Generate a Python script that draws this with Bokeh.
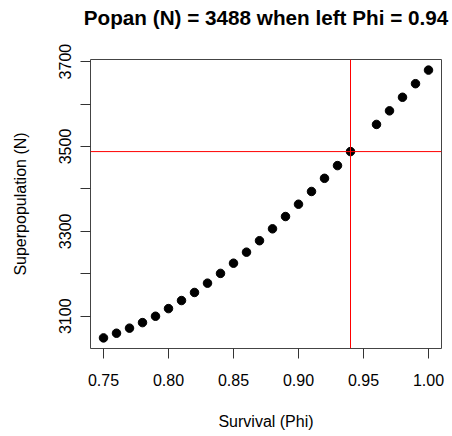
from bokeh.plotting import figure
from bokeh.models import Range1d, FixedTicker, Span, Title
from bokeh.embed import file_html
from bokeh.resources import INLINE

phi = [0.75, 0.76, 0.77, 0.78, 0.79, 0.80, 0.81, 0.82, 0.83, 0.84, 0.85, 0.86,
       0.87, 0.88, 0.89, 0.90, 0.91, 0.92, 0.93, 0.94, 0.96, 0.97, 0.98, 0.99, 1.00]
superpop = [3049, 3060, 3072, 3085, 3100, 3118, 3137, 3156, 3178, 3201, 3225, 3251,
            3278, 3306, 3335, 3364, 3394, 3425, 3455, 3488, 3552, 3584, 3616, 3648, 3680]
sel_phi = 0.94
sel_n = 3488
x_ticks = [0.75, 0.80, 0.85, 0.90, 0.95, 1.00]
y_ticks = [3100, 3200, 3300, 3400, 3500, 3600, 3700]
y_labelled = [3100, 3300, 3500, 3700]
title_text = f"Popan (N) = {sel_n} when left Phi = {sel_phi}"

FONT = "Liberation Sans"

p = figure(width=452, height=436, output_backend="svg", toolbar_location=None,
           x_range=Range1d(0.74, 1.01), y_range=Range1d(3024, 3705),
           min_border_left=90, min_border_right=11, min_border_top=59, min_border_bottom=88)

# spacer between frame and title (first "above" item sits next to the frame)
p.add_layout(Title(text=" ", text_font_size="1px", standoff=28), "above")
p.add_layout(Title(text=title_text, text_font=FONT, text_font_size="20.7px",
                   text_font_style="bold", align="center", text_color="black",
                   standoff=0), "above")

p.xgrid.visible = False
p.ygrid.visible = False
p.outline_line_color = "#444444"
p.outline_line_width = 1
p.background_fill_color = "white"
p.border_fill_color = "white"

p.xaxis.ticker = FixedTicker(ticks=x_ticks)
p.xaxis.major_label_overrides = {t: f"{t:.2f}" for t in x_ticks}
p.yaxis.ticker = FixedTicker(ticks=y_ticks)
p.yaxis.major_label_overrides = {t: (str(t) if t in y_labelled else "") for t in y_ticks}
p.yaxis.major_label_orientation = "vertical"

for ax in (p.xaxis[0], p.yaxis[0]):
    ax.axis_line_color = None
    ax.major_tick_in = 0
    ax.major_tick_out = 10
    ax.major_tick_line_color = "#333333"
    ax.minor_tick_line_color = None
    ax.major_label_text_font = FONT
    ax.major_label_text_font_size = "16px"
    ax.major_label_text_color = "black"
    ax.axis_label_text_font = FONT
    ax.axis_label_text_font_size = "16px"
    ax.axis_label_text_font_style = "normal"
    ax.axis_label_text_color = "black"

p.xaxis.axis_label = "Survival (Phi)"
p.yaxis.axis_label = "Superpopulation (N)"
p.xaxis.major_label_standoff = 15
p.yaxis.major_label_standoff = 9
p.xaxis.axis_label_standoff = 24
p.yaxis.axis_label_standoff = 28

p.add_layout(Span(location=sel_phi, dimension="height", line_color="red", line_width=1))
p.add_layout(Span(location=sel_n, dimension="width", line_color="red", line_width=1))

p.scatter(phi, superpop, size=8.5, color="black", marker="circle")

open("out.html", "w").write(file_html(p, INLINE))
